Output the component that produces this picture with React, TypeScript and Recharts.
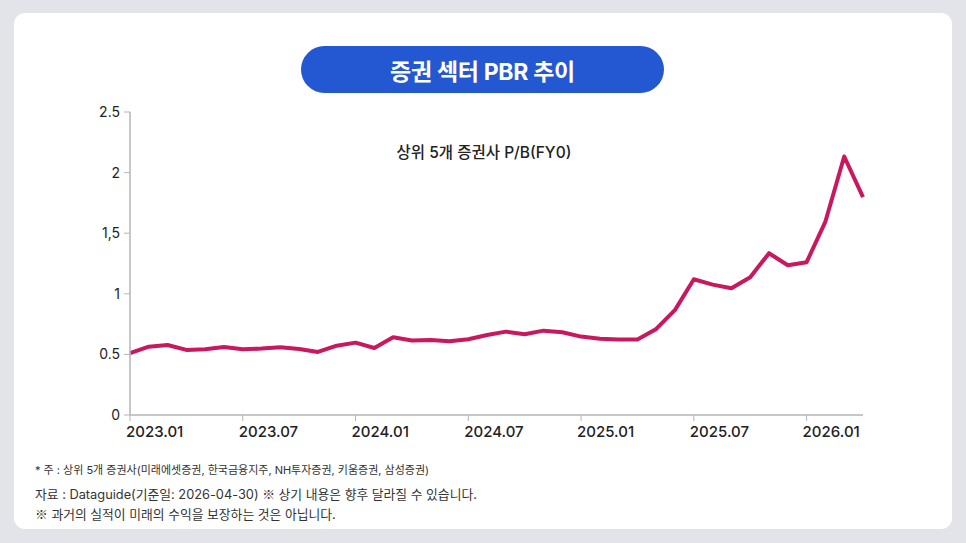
import React from 'react'
import { LineChart, Line, XAxis, YAxis } from 'recharts'

const FONT = 'Inter, "Noto Sans CJK KR", "Noto Sans", sans-serif'
const CJK = '"Noto Sans CJK KR", sans-serif'

// 월별 상위 5개 증권사 P/B (FY0)
const months = [
  '2023.01', '2023.02', '2023.03', '2023.04', '2023.05', '2023.06',
  '2023.07', '2023.08', '2023.09', '2023.10', '2023.11', '2023.12',
  '2024.01', '2024.02', '2024.03', '2024.04', '2024.05', '2024.06',
  '2024.07', '2024.08', '2024.09', '2024.10', '2024.11', '2024.12',
  '2025.01', '2025.02', '2025.03', '2025.04', '2025.05', '2025.06',
  '2025.07', '2025.08', '2025.09', '2025.10', '2025.11', '2025.12',
  '2026.01', '2026.02', '2026.03', '2026.04',
]
const pbr = [
  0.51, 0.564, 0.578, 0.537, 0.542, 0.561,
  0.542, 0.548, 0.559, 0.545, 0.52, 0.572,
  0.597, 0.553, 0.641, 0.614, 0.619, 0.608,
  0.625, 0.66, 0.688, 0.666, 0.696, 0.683,
  0.647, 0.63, 0.622, 0.622, 0.71, 0.867,
  1.12, 1.076, 1.046, 1.137, 1.335, 1.236,
  1.261, 1.596, 2.133, 1.798,
]
const xTicks = ['2023.01', '2023.07', '2024.01', '2024.07', '2025.01', '2025.07', '2026.01']
const yTicks = [0, 0.5, 1, 1.5, 2, 2.5]
const yLabels = ['0', '0.5', '1', '1,5', '2', '2.5']

const data = months.map((m, i) => ({ month: m, pbr: pbr[i] }))

function MonthTick({ x, y, payload }: any) {
  return (
    <text x={x - 4} y={y + 14} textAnchor="start" fontSize={15} fontWeight={500} fill="#222" fontFamily={FONT}>
      {payload.value}
    </text>
  )
}

const Mark = () => <span style={{ fontFamily: CJK }}>※</span>

export default function App() {
  return (
    <div style={{ position: 'absolute', left: 0, top: 0, width: 966, height: 543, background: '#e3e4e9', fontFamily: FONT }}>
      {/* card */}
      <div style={{ position: 'absolute', left: 14, top: 13, width: 938, height: 516, background: '#fff', borderRadius: 11 }} />

      {/* title pill */}
      <div style={{
        position: 'absolute', left: 301, top: 46, width: 363, height: 47, borderRadius: 24,
        background: '#2457d2', color: '#fff', fontSize: 23, fontWeight: 700,
        display: 'flex', alignItems: 'center', justifyContent: 'center', letterSpacing: -0.3,
      }}>
        증권 섹터 PBR 추이
      </div>

      <div style={{ position: 'absolute', left: 0, top: 0 }}>
        <LineChart width={966} height={543} data={data} margin={{ top: 112, right: 103, bottom: 98, left: 90 }}>
          <XAxis
            dataKey="month"
            ticks={xTicks}
            interval={0}
            height={30}
            tick={<MonthTick />}
            tickLine={{ stroke: '#b5b5b5' }}
            tickSize={6}
            axisLine={{ stroke: '#b5b5b5', strokeWidth: 1.5 }}
          />
          <YAxis
            domain={[0, 2.5]}
            ticks={yTicks}
            width={40}
            tickFormatter={(v: number) => yLabels[yTicks.indexOf(v)] ?? String(v)}
            tick={{ fill: '#222', fontSize: 14, fontFamily: FONT }}
            tickLine={{ stroke: '#b5b5b5' }}
            tickSize={6}
            tickMargin={4}
            axisLine={{ stroke: '#b5b5b5', strokeWidth: 1.5 }}
          />
          <Line
            type="linear"
            dataKey="pbr"
            stroke="#c8185e"
            strokeWidth={4}
            dot={false}
            activeDot={false}
            strokeLinejoin="round"
            isAnimationActive={false}
          />
          <text x={484} y={158} textAnchor="middle" fontSize={15.5} fontWeight={500} fill="#222" fontFamily={FONT}>
            상위 5개 증권사 P/B(FY0)
          </text>
        </LineChart>
      </div>

      {/* notes */}
      <div style={{ position: 'absolute', left: 35, top: 461, fontSize: 11, color: '#333' }}>
        * 주 : 상위 5개 증권사(미래에셋증권, 한국금융지주, NH투자증권, 키움증권, 삼성증권)
      </div>
      <div style={{ position: 'absolute', left: 35, top: 484, fontSize: 12.8, color: '#333', lineHeight: '19px' }}>
        자료 : Dataguide(기준일: 2026-04-30) <Mark /> 상기 내용은 향후 달라질 수 있습니다.
        <br />
        <Mark /> 과거의 실적이 미래의 수익을 보장하는 것은 아닙니다.
      </div>
    </div>
  )
}
